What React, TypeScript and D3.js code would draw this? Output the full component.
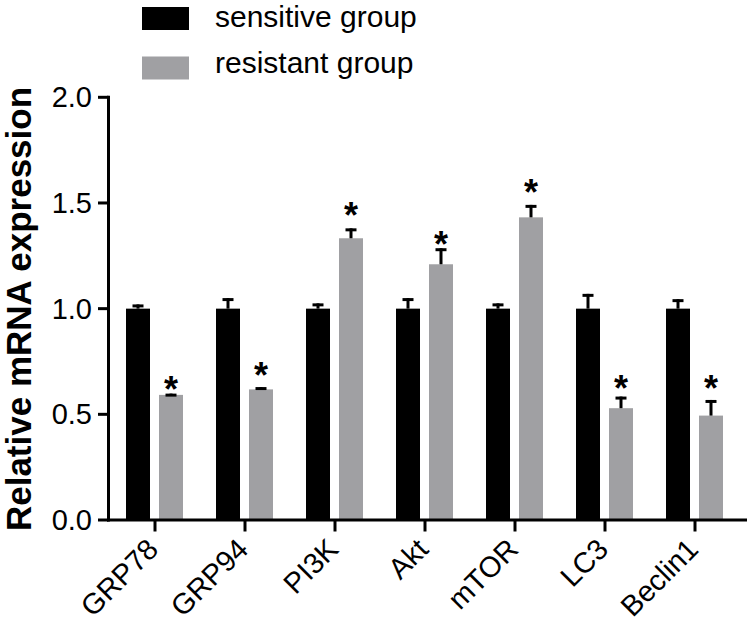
import React from "react";
import * as d3 from "d3";

const categories = ["GRP78", "GRP94", "PI3K", "Akt", "mTOR", "LC3", "Beclin1"];
const seriesNames = ["sensitive group", "resistant group"];
const sensitive = [1.0, 1.0, 1.0, 1.0, 1.0, 1.0, 1.0];
const sensitiveErr = [0.02, 0.05, 0.025, 0.05, 0.025, 0.07, 0.045];
const resistant = [0.592, 0.618, 1.333, 1.21, 1.432, 0.529, 0.494];
const resistantErr = [0.006, 0.011, 0.047, 0.076, 0.059, 0.055, 0.074];
const starLevel = [0.658, 0.726, 1.483, 1.344, 1.59, 0.663, 0.663];
const yTicks = [0, 0.5, 1.0, 1.5, 2.0];
const yLabel = "Relative mRNA expression";

const FONT = "Arial, 'Liberation Sans', Helvetica, sans-serif";
const colors = ["#000000", "#a0a0a3"];

export default function App() {
  const W = 751, H = 627;
  const y = d3.scaleLinear().domain([0, 2]).range([520, 97.3]);
  const x = d3.scaleBand<string>().domain(categories).range([110, 740]).paddingInner(0);
  const inner = d3.scaleBand<string>().domain(seriesNames).range([-29, 28]).paddingInner(9 / 33);
  const bw = inner.bandwidth();
  const values = [sensitive, resistant];
  const errs = [sensitiveErr, resistantErr];
  const cx = (c: string) => (x(c) as number) + x.bandwidth() / 2;

  return (
    <svg width={W} height={H} style={{ position: "absolute", left: 0, top: 0, background: "#fff" }} fontFamily={FONT}>
      {/* legend */}
      {seriesNames.map((s, i) => (
        <g key={s}>
          <rect x={142} y={7 + i * 49.5} width={47} height={23} fill={colors[i]} />
          <text x={215} y={26.5 + i * 46.5} fontSize={30} fill="#000">{s}</text>
        </g>
      ))}
      {/* bars */}
      {categories.map((c, ci) => (
        <g key={c}>
          {seriesNames.map((s, si) => {
            const v = values[si][ci];
            const e = errs[si][ci];
            const bx = cx(c) + (inner(s) as number);
            const mid = bx + bw / 2;
            return (
              <g key={s}>
                <rect x={bx} y={y(v)} width={bw} height={y(0) - y(v)} fill={colors[si]} />
                <line x1={mid} x2={mid} y1={y(v)} y2={y(v + e)} stroke="#000" strokeWidth={3} />
                <line x1={mid - 5.5} x2={mid + 5.5} y1={y(v + e) + 1.5} y2={y(v + e) + 1.5} stroke="#000" strokeWidth={3} />
              </g>
            );
          })}
          <text
            x={cx(c) + (inner(seriesNames[1]) as number) + bw / 2}
            y={y(starLevel[ci]) + 21}
            fontSize={36}
            fontWeight="bold"
            textAnchor="middle"
            fill="#000"
          >*</text>
        </g>
      ))}
      {/* y axis */}
      <line x1={108.5} x2={108.5} y1={y(2) - 1.5} y2={y(0) + 1.5} stroke="#000" strokeWidth={3} />
      {yTicks.map((t) => (
        <g key={t}>
          <line x1={98} x2={108.5} y1={y(t)} y2={y(t)} stroke="#000" strokeWidth={3} />
          <text x={92} y={y(t) + 10} fontSize={29} textAnchor="end" fill="#000">{d3.format(".1f")(t)}</text>
        </g>
      ))}
      {/* x axis */}
      <line x1={107} x2={747} y1={520} y2={520} stroke="#000" strokeWidth={3} />
      {categories.map((c) => (
        <g key={c}>
          <line x1={cx(c)} x2={cx(c)} y1={520} y2={531.5} stroke="#000" strokeWidth={3} />
          <text
            transform={`translate(${cx(c) + 5},${551}) rotate(-45)`}
            fontSize={29}
            textAnchor="end"
            fill="#000"
          >{c}</text>
        </g>
      ))}
      <text transform="translate(31,309) rotate(-90)" fontSize={35} fontWeight="bold" textAnchor="middle" fill="#000">{yLabel}</text>
    </svg>
  );
}
